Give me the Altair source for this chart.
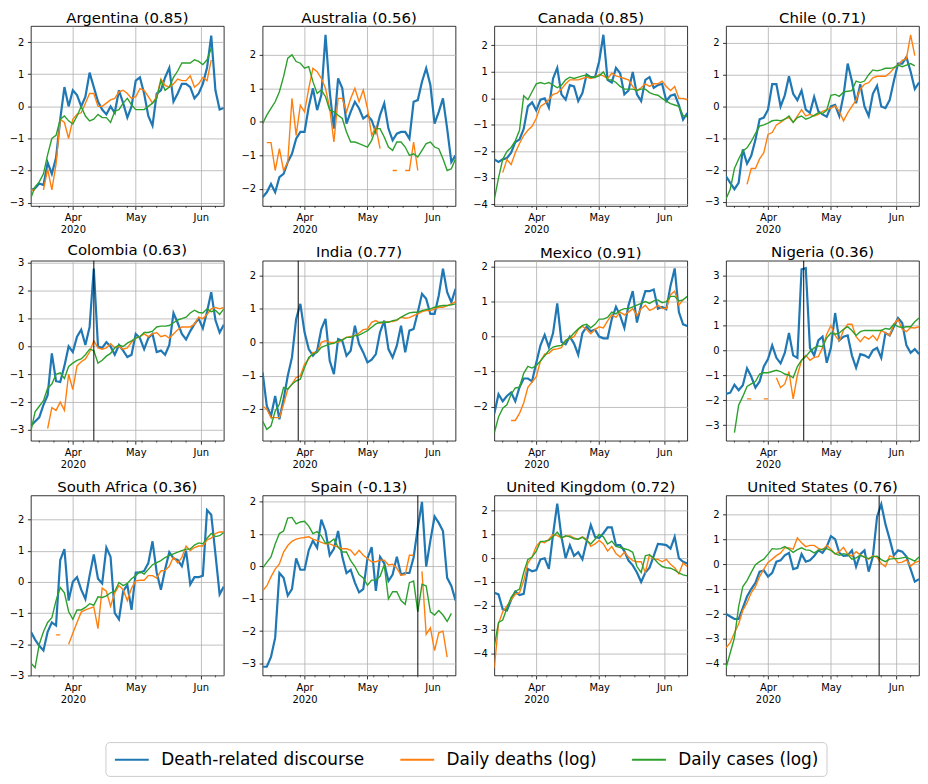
import math
import pandas as pd
import altair as alt

# ---------------- data (one value every 2 days from 2020-03-12) -------------
START = "2020-03-12"
STEP_DAYS = 2

COUNTRIES = ["Argentina", "Australia", "Canada", "Chile",
             "Colombia", "India", "Mexico", "Nigeria",
             "South Africa", "Spain", "United Kingdom", "United States"]
CORRELATIONS = ["0.85", "0.56", "0.85", "0.71", "0.63", "0.77",
                "0.91", "0.36", "0.36", "-0.13", "0.72", "0.76"]
EVENT_DATES = {"Colombia": "2020-04-11", "India": "2020-03-29", "Nigeria": "2020-04-18",
               "Spain": "2020-05-25", "United States": "2020-05-24"}
Y_DOMAINS = [[-3.1, 2.5], [-2.51, 2.86], [-4.06, 2.73], [-3.13, 2.53],
             [-3.39, 3.08], [-2.94, 2.44], [-2.98, 2.17], [-3.63, 3.6],
             [-3.0, 2.77], [-3.37, 2.2], [-4.93, 2.64], [-4.46, 2.75]]
MINOR_TICK_DATES = ["2020-03-16", "2020-03-23", "2020-03-30", "2020-04-06", "2020-04-13",
                    "2020-04-20", "2020-04-27", "2020-05-04", "2020-05-11", "2020-05-18",
                    "2020-05-25", "2020-06-08"]

SERIES = ["Death-related discourse", "Daily deaths (log)", "Daily cases (log)"]
COLORS = ["#1f77b4", "#ff7f0e", "#2ca02c"]
N = None

ARG_DISCOURSE = [-2.6, -2.55, -2.4, -2.45, -1.75, -2.1, -1.6, -0.4, 0.6, 0.0,
                 0.5, 0.35, 0.0, 0.3, 1.05, 0.6, 0.15, -0.1, -0.25, 0.0,
                 -0.2, 0.5, 0.1, -0.35, 0.0, 0.8, 0.9, 0.4, -0.3, -0.6,
                 0.4, 0.5, 0.9, 1.2, 0.15, 0.4, 0.7, 0.7, 0.6, 0.25,
                 0.4, 0.7, 1.2, 2.2, 0.5, -0.1, -0.05]
ARG_DEATHS = [-2.6, -2.6, N, -2.6, -1.95, -2.6, -1.8, -0.4, -0.5, -1.0,
              -0.4, -0.25, -0.2, 0.1, 0.4, 0.4, 0.0, 0.0, 0.1, 0.2,
              0.25, 0.45, 0.5, 0.4, 0.25, 0.3, 0.55, 0.5, 0.3, 0.1,
              0.3, 0.85, 0.65, 0.6, 0.7, 0.85, 0.8, 0.8, 0.95, 0.6,
              0.7, 0.9, 0.8, 1.45]
ARG_CASES = [-2.85, -2.5, -2.35, -2.1, -1.5, -1.0, -0.9, -0.4, -0.3, -0.45,
             -0.55, -0.3, 0.0, -0.3, -0.45, -0.4, -0.25, -0.35, -0.35, -0.5,
             -0.15, -0.1, 0.1, 0.25, 0.05, -0.1, -0.1, -0.1, 0.0, 0.1,
             0.25, 0.8, 0.5, 0.6, 0.9, 1.1, 1.35, 1.35, 1.35, 1.45,
             1.4, 1.3, 1.45, 1.8]

AUS_DISCOURSE = [-2.25, -2.1, -1.85, -2.1, -1.65, -1.55, -1.2, -0.95, -0.5, -0.3,
                 -0.3, 0.45, 1.0, 0.35, 0.8, 2.6, 0.9, -0.2, 1.3, 1.0,
                 -0.05, 0.3, 0.6, 0.4, 0.1, 0.2, 0.05, -0.3, 0.2, 0.55,
                 -0.2, -0.55, -0.35, -0.3, -0.3, -0.5, 0.6, 0.65, 1.2, 1.6,
                 1.1, -0.05, 0.3, 0.7, -0.2, -1.2, -1.0]
AUS_DEATHS = [N, -0.62, -0.62, -1.45, -0.8, -1.45, -1.2, 0.7, -0.4, 0.5,
              0.3, 1.0, 1.6, 1.5, 1.3, 1.0, 0.4, -0.6, 0.7, 0.7,
              0.3, 0.7, 1.0, 0.6, 0.95, 0.4, -0.4, -0.15, -0.8, N,
              N, -1.45, -1.45, N, -1.45, -1.45, -0.6, -1.45]
AUS_CASES = [-0.05, 0.2, 0.4, 0.6, 0.9, 1.35, 1.9, 2.0, 1.8, 1.75,
             1.6, 1.65, 1.2, 0.85, 0.95, 0.75, 0.35, 0.3, 0.2, 0.1,
             -0.3, -0.6, -0.6, -0.65, -0.7, -0.75, -0.55, -0.2, -0.2, -0.45,
             -0.75, -0.85, -0.6, -0.6, -0.75, -1.0, -0.95, -1.05, -0.85, -0.65,
             -0.6, -0.75, -0.8, -1.1, -1.45, -1.4, -1.1]

CAN_DISCOURSE = [-2.3, -2.4, -2.3, -2.25, -2.05, -1.65, -1.55, -1.15, -0.3, -0.15,
                 -0.45, -0.05, 0.0, -0.35, 0.75, 1.15, 0.15, -0.05, 0.5, 0.45,
                 -0.1, 0.2, 0.9, 0.8, 0.8, 1.4, 2.4, 0.7, 0.6, 1.15,
                 0.95, 0.15, 0.3, 1.0, 0.15, -0.1, 0.7, 0.8, 0.4, 0.5,
                 0.55, -0.1, 0.1, 0.15, -0.25, -0.8, -0.55]
CAN_DEATHS = [N, N, -2.8, -2.3, -2.5, -2.05, -1.7, -1.4, -1.2, -1.05,
              -0.75, -0.3, -0.2, -0.05, 0.15, 0.2, 0.35, 0.55, 0.7, 0.7,
              0.7, 0.75, 0.8, 0.75, 0.8, 0.9, 0.85, 0.75, 0.95, 0.85,
              0.8, 0.75, 0.7, 0.45, 0.3, 0.4, 0.55, 0.45, 0.55, 0.55,
              0.65, 0.45, 0.3, 0.45, 0.0, 0.0, -0.05]
CAN_CASES = [-3.8, -3.0, -2.3, -2.0, -1.85, -1.6, -1.2, 0.1, -0.05, 0.25,
             0.55, 0.6, 0.55, 0.6, 0.5, 0.4, 0.5, 0.7, 0.8, 0.75,
             0.8, 0.85, 0.88, 0.8, 0.8, 0.85, 1.0, 0.7, 0.7, 0.6,
             0.45, 0.35, 0.35, 0.35, 0.3, 0.35, 0.35, 0.22, 0.15, 0.12,
             0.0, -0.1, -0.2, -0.25, -0.3, -0.65, -0.7]

CHL_DISCOURSE = [-2.2, -2.4, -2.6, -2.4, -1.35, -1.8, -1.55, -1.05, -0.4, -0.35,
                 -0.1, 0.7, 0.7, 0.0, 0.35, 0.95, 0.4, 0.2, 0.5, -0.1,
                 -0.2, 0.3, -0.15, -0.25, -0.32, 0.0, 0.05, -0.3, 0.35, 1.35,
                 0.8, 0.1, 0.7, 0.0, -0.3, 0.4, 0.65, 0.0, -0.05, 0.2,
                 0.8, 1.35, 1.35, 1.55, 1.1, 0.55, 0.75]
CHL_DEATHS = [N, N, N, N, N, -2.45, -1.95, -1.95, -1.65, -1.45,
              -0.88, -0.82, -0.58, -0.5, -0.4, -0.35, -0.5, -0.3, -0.1, -0.3,
              -0.25, -0.3, -0.25, -0.15, -0.1, -0.05, 0.02, -0.15, -0.45, -0.2,
              0.0, 0.2, 0.55, 0.7, 0.75, 0.9, 0.95, 0.95, 0.95, 1.05,
              1.2, 1.3, 1.45, 1.5, 2.25, 1.6]
CHL_CASES = [-2.9, -2.6, -1.95, -1.65, -1.4, -1.3, -1.1, -0.85, -0.62, -0.58,
             -0.52, -0.45, -0.43, -0.45, -0.4, -0.3, -0.5, -0.35, -0.3, -0.4,
             -0.35, -0.28, -0.2, -0.22, -0.12, 0.35, 0.38, 0.32, 0.45, 0.48,
             0.5, 0.8, 0.75, 0.8, 1.0, 1.15, 1.12, 1.15, 1.2, 1.2,
             1.22, 1.3, 1.25, 1.3, 1.35, 1.28]

COL_DISCOURSE = [-2.85, -2.7, -2.55, -2.1, -1.75, -0.25, -1.25, -1.28, -0.7, 0.0,
                 -0.2, 0.35, 0.6, 0.05, 0.7, 2.8, 0.0, -0.05, 0.15, 0.0,
                 -0.3, 0.05, -0.15, -0.38, -0.3, 0.45, 0.3, -0.1, 0.3, 0.45,
                 -0.2, -0.15, -0.3, 0.05, 1.2, 0.85, 0.45, 0.25, 0.55, 0.8,
                 1.0, 0.65, 1.25, 1.95, 0.95, 0.5, 0.78]
COL_DEATHS = [N, N, N, N, -2.95, -2.2, -2.3, -2.0, -2.3, -1.0,
              -1.55, -0.7, -0.55, -0.45, -0.2, 0.2, -0.05, -0.1, -0.05, 0.1,
              -0.05, 0.0, -0.1, -0.05, 0.15, 0.3, 0.35, 0.45, 0.35, 0.45,
              0.5, 0.35, 0.4, 0.3, 0.45, 0.6, 0.7, 0.7, 0.7, 0.8,
              1.05, 1.0, 1.15, 1.35, 1.4, 1.35, 1.4]
COL_CASES = [-3.05, -2.35, -2.15, -1.95, -1.5, -1.35, -1.0, -0.95, -1.15, -0.72,
             -0.6, -0.5, -0.45, -0.3, -0.1, -0.15, -0.6, -0.5, -0.35, -0.25,
             -0.05, 0.05, 0.0, 0.12, 0.2, 0.3, 0.35, 0.5, 0.5, 0.55,
             0.7, 0.73, 0.73, 0.75, 0.85, 0.95, 1.0, 1.05, 1.2, 1.3,
             1.22, 1.2, 1.35, 1.25, 1.3, 1.15, 1.35]

IND_DISCOURSE = [-0.9, -1.9, -2.2, -1.6, -2.3, -1.7, -1.0, -0.45, 0.7, 1.15,
                 0.3, -0.2, -0.4, -0.25, 0.4, 0.7, -0.55, -0.95, 0.1, 0.05,
                 -0.4, -0.25, 0.5, -0.05, -0.3, -0.6, -0.52, -0.35, 0.3, 0.65,
                 -0.2, -0.45, -0.1, 0.5, -0.3, 0.35, 0.4, 0.9, 1.45, 1.3,
                 0.85, 0.85, 1.4, 2.2, 1.5, 1.2, 1.6]
IND_DEATHS = [-1.9, -2.0, -2.25, -2.25, -2.25, -1.85, -1.4, -1.25, -1.05, -1.0,
              -0.65, -0.5, -0.3, -0.3, 0.0, 0.05, 0.0, 0.0, 0.0, 0.08,
              0.15, 0.18, 0.2, 0.28, 0.38, 0.4, 0.6, 0.65, 0.57, 0.6,
              0.62, 0.62, 0.66, 0.75, 0.72, 0.74, 0.8, 0.85, 0.92, 0.95,
              0.95, 1.0, 1.05, 1.05, 1.1, 1.15, 1.22]
IND_CASES = [-2.35, -2.6, -2.5, -2.05, -1.85, -1.35, -1.4, -1.25, -1.15, -1.1,
             -0.75, -0.45, -0.35, -0.3, -0.15, -0.1, -0.05, -0.03, 0.05, 0.07,
             0.15, 0.15, 0.2, 0.22, 0.28, 0.35, 0.45, 0.55, 0.6, 0.6,
             0.6, 0.65, 0.67, 0.75, 0.82, 0.88, 0.9, 0.9, 0.95, 0.98,
             1.0, 1.05, 1.08, 1.1, 1.1, 1.12, 1.15]

MEX_DISCOURSE = [-2.2, -1.65, -1.85, -1.7, -1.6, -1.85, -1.45, -1.2, -1.2, -1.28,
                 -0.75, -0.25, 0.05, -0.3, 0.1, 0.95, -0.15, -0.22, 0.0, -0.2,
                 -0.52, 0.1, 0.28, 0.15, 0.2, 0.0, -0.05, -0.05, 0.5, 0.85,
                 0.6, 0.25, 0.9, 1.3, 0.4, 0.9, 1.3, 1.3, 1.35, 0.8,
                 0.85, 0.78, 1.45, 1.95, 0.7, 0.35, 0.3]
MEX_DEATHS = [N, N, N, N, -2.4, -2.4, -2.2, -1.9, -1.45, -1.3,
              -1.15, -0.7, -0.5, -0.48, -0.37, -0.35, -0.32, -0.1, -0.05, 0.0,
              0.2, 0.3, 0.2, 0.08, 0.2, 0.28, 0.25, 0.45, 0.62, 0.55,
              0.7, 0.62, 0.7, 0.8, 0.6, 0.8, 0.9, 0.75, 0.8, 0.9,
              0.8, 0.8, 1.2, 1.3, 0.9, 1.05]
MEX_CASES = [-2.75, -2.3, -2.05, -1.95, -1.65, -1.47, -1.45, -1.05, -0.85, -0.9,
             -0.83, -0.7, -0.55, -0.4, -0.3, -0.27, -0.25, -0.12, -0.03, 0.1,
             0.22, 0.32, 0.35, 0.25, 0.35, 0.5, 0.5, 0.55, 0.7, 0.65,
             0.75, 0.8, 0.8, 0.85, 0.9, 0.95, 1.0, 0.95, 1.02, 1.05,
             0.97, 1.0, 1.15, 1.15, 1.02, 1.05, 1.15]

NGA_DISCOURSE = [-1.75, -1.7, -1.38, -1.6, -1.4, -0.72, -1.05, -1.5, -1.25, -0.65,
                 -0.35, 0.2, -0.3, -0.52, -0.1, 0.7, -0.2, -0.3, 3.25, 3.3,
                 0.1, -0.2, 0.4, 0.55, -0.5, 0.1, 1.5, 0.4, 0.55, 0.6,
                 -0.2, -0.7, -0.15, -0.2, -0.3, 0.0, 0.1, -0.3, 0.7, 0.6,
                 0.95, 1.3, 1.1, 0.2, -0.1, 0.05, -0.15]
NGA_DEATHS = [N, N, N, N, N, -1.95, -1.95, N, N, -1.95,
              -1.95, N, -1.1, -1.5, -1.35, -0.85, -1.95, -1.0, -0.4, -0.2,
              -0.4, -0.28, -0.25, 0.1, 0.65, 1.0, 0.6, 0.38, 0.8, 1.05,
              1.05, 0.55, 0.35, 0.55, 0.45, 0.6, 0.4, 0.8, 0.7, 0.6,
              1.05, 1.25, 0.85, 0.75, 0.92, 0.9, 0.95]
NGA_CASES = [N, N, -3.3, -2.2, -1.85, -1.45, -1.35, -1.25, -0.95, -0.9,
             -0.9, -0.85, -0.8, -0.85, -0.95, -1.0, -1.1, -0.65, -0.4, -0.25,
             -0.05, 0.1, 0.18, 0.15, 0.5, 0.7, 0.65, 0.7, 0.85, 0.95,
             0.8, 0.6, 0.75, 0.8, 0.8, 0.8, 0.8, 0.8, 0.88, 0.85,
             1.05, 0.95, 0.92, 0.95, 0.95, 1.15, 1.3]

ZAF_DISCOURSE = [-1.6, -1.85, -2.05, -2.2, -1.6, -1.3, -1.4, 0.7, 1.05, -0.6,
                 0.0, 0.15, -0.25, -0.55, 0.2, 0.88, 0.1, -0.05, 1.1, 0.8,
                 -1.0, -1.2, -0.3, -0.1, -0.9, 0.3, 0.3, 0.35, 0.6, 1.3,
                 0.3, -0.25, 0.4, 0.95, 0.75, 0.7, 0.5, 1.0, -0.08, 0.15,
                 0.15, 0.2, 2.3, 2.15, 0.9, -0.4, -0.15]
ZAF_DEATHS = [N, N, N, N, N, N, -1.7, -1.7, N, -2.0,
              -1.65, -1.3, -0.97, -0.9, -0.85, -0.8, -1.5, -0.2, -0.3, -0.78,
              -0.35, -0.12, -0.25, -0.6, -0.2, 0.03, 0.05, 0.05, 0.2, 0.2,
              0.12, 0.35, 0.37, 0.5, 0.8, 0.6, 0.78, 1.15, 1.0, 1.1,
              1.15, 1.15, 1.35, 1.4, 1.55, 1.6, 1.6]
ZAF_CASES = [-2.6, -2.75, -2.0, -1.6, -1.3, -1.15, -0.6, -0.18, -0.35, -0.95,
             -1.2, -0.9, -0.9, -0.82, -0.7, -0.75, -0.48, -0.5, -0.45, -0.35,
             -0.3, -0.02, -0.12, -0.05, 0.1, 0.2, 0.33, 0.25, 0.4, 0.55,
             0.62, 0.68, 0.78, 0.85, 0.9, 0.95, 1.0, 1.05, 1.05, 1.18,
             1.25, 1.22, 1.4, 1.55, 1.45, 1.48, 1.58]

ESP_DISCOURSE = [-3.1, -3.1, -2.8, -2.2, -0.2, -0.35, -0.9, -0.7, 0.25, -0.1,
                 -0.1, 0.5, 0.8, 0.58, 1.45, 1.1, 0.35, 0.55, 1.1, 0.3,
                 -0.2, -0.1, -0.5, -0.8, -0.7, 0.25, 0.6, -0.75, 0.3, 0.1,
                 -0.45, -0.25, 0.3, -0.25, -0.2, -0.2, 0.28, 1.2, 2.0, 0.0,
                 0.8, 1.55, 1.35, 1.1, -0.35, -0.6, -1.05]
ESP_DEATHS = [-0.75, -0.6, -0.32, -0.08, 0.08, 0.45, 0.65, 0.78, 0.85, 0.88,
              0.9, 0.92, 0.85, 0.8, 0.75, 0.7, 0.7, 0.65, 0.6, 0.55,
              0.55, 0.5, 0.35, 0.5, 0.35, 0.25, 0.15, 0.15, 0.2, 0.2,
              0.05, 0.07, -0.05, -0.27, -0.25, 0.35, 0.35, N, -0.15, -2.1,
              -1.9, -2.6, -2.05, -2.0, -2.8]
ESP_CASES = [-0.05, 0.13, 0.3, 0.7, 1.02, 1.1, 1.5, 1.52, 1.32, 1.38,
             1.4, 1.25, 1.02, 1.08, 0.95, 0.72, 0.75, 0.85, 0.6, 0.45,
             0.45, 0.18, 0.0, -0.25, -0.35, -0.58, -0.42, -0.42, -0.3, 0.05,
             -1.0, -0.78, -0.78, -1.05, -1.17, -0.5, -0.45, -1.4, -0.55, -0.6,
             -1.4, -1.5, -1.36, -1.5, -1.7, -1.45]

GBR_DISCOURSE = [-1.45, -1.52, -2.15, -2.2, -1.75, -1.4, -1.55, -1.5, -0.45, -0.55,
                 -0.5, -0.05, 0.0, -0.45, 1.0, 2.3, 0.9, 0.0, 0.55, 0.1,
                 0.25, -0.05, 0.7, 1.4, 0.9, 0.85, 1.05, 1.3, 1.3, 0.55,
                 0.55, 0.3, -0.1, -0.3, -0.6, -1.0, -0.6, -0.4, 0.1, 0.6,
                 0.58, 0.55, 0.4, 0.9, 0.0, -0.15, -0.22]
GBR_DEATHS = [-4.6, -2.75, -2.25, -2.0, -1.75, -1.52, -1.45, -0.95, -0.2, 0.05,
              0.5, 0.7, 0.65, 0.8, 1.0, 0.95, 0.85, 0.92, 0.95, 0.85,
              0.8, 0.9, 0.8, 0.5, 0.6, 0.75, 0.6, 0.3, 0.5, 0.2,
              0.05, 0.25, 0.05, -0.1, -0.15, -0.15, -0.6, 0.15, -0.05, -0.05,
              -0.15, -0.05, -0.25, -0.4, -0.65, -0.2, -0.35]
GBR_CASES = [-3.7, -2.7, -2.6, -2.1, -1.65, -1.4, -1.3, -0.6, -0.05, 0.05,
             0.3, 0.7, 0.72, 0.75, 0.9, 1.1, 0.85, 0.95, 0.9, 0.82,
             0.8, 0.88, 0.75, 0.6, 0.8, 1.0, 0.9, 0.6, 0.72, 0.5,
             0.45, 0.4, 0.35, 0.25, -0.35, -0.6, 0.1, 0.15, 0.0, -0.2,
             -0.35, -0.4, -0.42, -0.5, -0.62, -0.7, -0.74]

USA_DISCOURSE = [-2.0, -2.1, -2.2, -2.2, -1.75, -1.3, -1.0, -0.75, -0.3, -0.25,
                 -0.5, -0.35, 0.1, 0.15, 0.35, 0.45, -0.2, -0.15, 0.4, 0.1,
                 0.15, 0.32, 0.55, 0.45, 0.7, 1.12, 1.0, 0.45, 0.33, 0.35,
                 0.55, -0.1, 0.4, 0.55, -0.3, 0.3, 1.9, 2.4, 1.6, 1.0,
                 0.35, 0.55, 0.5, 0.3, -0.2, -0.7, -0.6]
USA_DEATHS = [-3.35, -3.15, -2.75, -2.4, -1.85, -1.55, -1.15, -0.9, -0.5, -0.2,
              0.07, 0.2, 0.34, 0.45, 0.65, 0.65, 0.6, 1.05, 0.85, 0.7,
              0.75, 0.75, 0.63, 0.57, 0.75, 0.6, 0.4, 0.5, 0.67, 0.4,
              0.32, 0.5, 0.37, 0.28, 0.2, 0.33, 0.27, 0.02, -0.1, 0.33,
              0.27, 0.05, 0.08, 0.17, -0.08, 0.06, 0.12]
USA_CASES = [-4.15, -3.55, -2.95, -1.7, -0.9, -0.66, -0.33, -0.02, 0.1, 0.2,
             0.4, 0.62, 0.6, 0.62, 0.7, 0.6, 0.47, 0.58, 0.65, 0.57,
             0.55, 0.45, 0.55, 0.6, 0.62, 0.55, 0.42, 0.35, 0.42, 0.38,
             0.2, 0.25, 0.35, 0.28, 0.22, 0.3, 0.32, 0.18, 0.1, 0.2,
             0.22, 0.22, 0.25, 0.28, 0.2, 0.12, 0.28]

PANEL_SERIES = [
    (ARG_DISCOURSE, ARG_DEATHS, ARG_CASES), (AUS_DISCOURSE, AUS_DEATHS, AUS_CASES),
    (CAN_DISCOURSE, CAN_DEATHS, CAN_CASES), (CHL_DISCOURSE, CHL_DEATHS, CHL_CASES),
    (COL_DISCOURSE, COL_DEATHS, COL_CASES), (IND_DISCOURSE, IND_DEATHS, IND_CASES),
    (MEX_DISCOURSE, MEX_DEATHS, MEX_CASES), (NGA_DISCOURSE, NGA_DEATHS, NGA_CASES),
    (ZAF_DISCOURSE, ZAF_DEATHS, ZAF_CASES), (ESP_DISCOURSE, ESP_DEATHS, ESP_CASES),
    (GBR_DISCOURSE, GBR_DEATHS, GBR_CASES), (USA_DISCOURSE, USA_DEATHS, USA_CASES),
]

# ---------------- layout / style -------------
PANEL_W, PANEL_H = 194, 181
STROKE_WIDTHS = [2.2, 1.4, 1.4]
FONT = "DejaVu Sans"


def iso(day_string):
    return pd.Timestamp(day_string).strftime("%Y-%m-%dT%H:%M:%S")


def series_frame(values, name):
    rows, seg = [], 0
    t0 = pd.Timestamp(START)
    for i, v in enumerate(values):
        if v is None:
            seg += 1
            continue
        day = t0 + pd.Timedelta(days=STEP_DAYS * i)
        rows.append({"date": day.strftime("%Y-%m-%dT%H:%M:%S"), "value": v,
                     "series": name, "seg": seg})
    return pd.DataFrame(rows)


x_axis = alt.Axis(
    values=[alt.DateTime(year=2020, month=m, date=1) for m in (4, 5, 6)],
    labelExpr="month(datum.value) == 3 ? ['Apr', '2020'] : timeFormat(datum.value, '%b')",
    title=None, grid=True, labelAngle=0, labelAlign="center", labelLineHeight=12,
)
x_enc = alt.X("date:T",
              scale=alt.Scale(domain=[alt.DateTime(year=2020, month=3, date=12),
                                      alt.DateTime(year=2020, month=6, date=12)]),
              axis=x_axis)

# legend: a long horizontal stroke drawn from a custom path (wider than its 17px layout box)
legend = alt.Legend(
    title=None, orient="none", legendX=75, legendY=720, direction="horizontal", columns=3,
    symbolType="M-2,0H2", symbolSize=289, symbolStrokeWidth=2, symbolOffset=9,
    labelFontSize=17, labelFont=FONT, labelColor="black", labelLimit=400,
    labelOffset=20, columnPadding=31, padding=8,
    strokeColor="#cccccc", fillColor="white", cornerRadius=4,
)
color_enc = alt.Color("series:N", scale=alt.Scale(domain=SERIES, range=COLORS), legend=legend)

minor_df = pd.DataFrame({"date": [iso(d) for d in MINOR_TICK_DATES]})


def panel(i):
    name = COUNTRIES[i]
    lo, hi = Y_DOMAINS[i]
    yticks = list(range(math.ceil(lo), math.floor(hi) + 1))
    y_enc = alt.Y("value:Q", scale=alt.Scale(domain=[lo, hi], nice=False, zero=False),
                  axis=alt.Axis(values=yticks, format="d", title=None, grid=True))
    layers = []
    for vals, sname, w in zip(PANEL_SERIES[i], SERIES, STROKE_WIDTHS):
        df = series_frame(vals, sname)
        layers.append(
            alt.Chart(df).mark_line(strokeWidth=w, clip=True).encode(
                x=x_enc, y=y_enc, color=color_enc, detail="seg:N")
        )
    if name in EVENT_DATES:
        ev = pd.DataFrame({"date": [iso(EVENT_DATES[name])]})
        layers.append(alt.Chart(ev).mark_rule(color="black", strokeWidth=1.2, opacity=0.8)
                      .encode(x=x_enc))
    layers.append(alt.Chart(minor_df).mark_rule(color="black", strokeWidth=0.6)
                  .encode(x=x_enc, y=alt.value(PANEL_H), y2=alt.value(PANEL_H + 2)))
    title = alt.TitleParams(f"{name} ({CORRELATIONS[i]})", fontSize=15, fontWeight="normal",
                            font=FONT, color="black", offset=0)
    return alt.layer(*layers).properties(width=PANEL_W, height=PANEL_H, title=title)


chart = alt.concat(*[panel(i) for i in range(12)], columns=4,
                   spacing={"row": 55, "column": 39}, bounds="flush").properties(padding=0)

chart = chart.configure(font=FONT).configure_view(
    stroke="black", strokeWidth=0.8
).configure_axis(
    domain=False, tickColor="black", tickSize=3.5, tickWidth=0.8,
    labelColor="black", labelFontSize=10, labelFont=FONT, labelPadding=3.5,
    gridColor="#b0b0b0", gridWidth=0.8,
)

chart.save("out.html", embed_options={"renderer": "svg", "actions": False})
